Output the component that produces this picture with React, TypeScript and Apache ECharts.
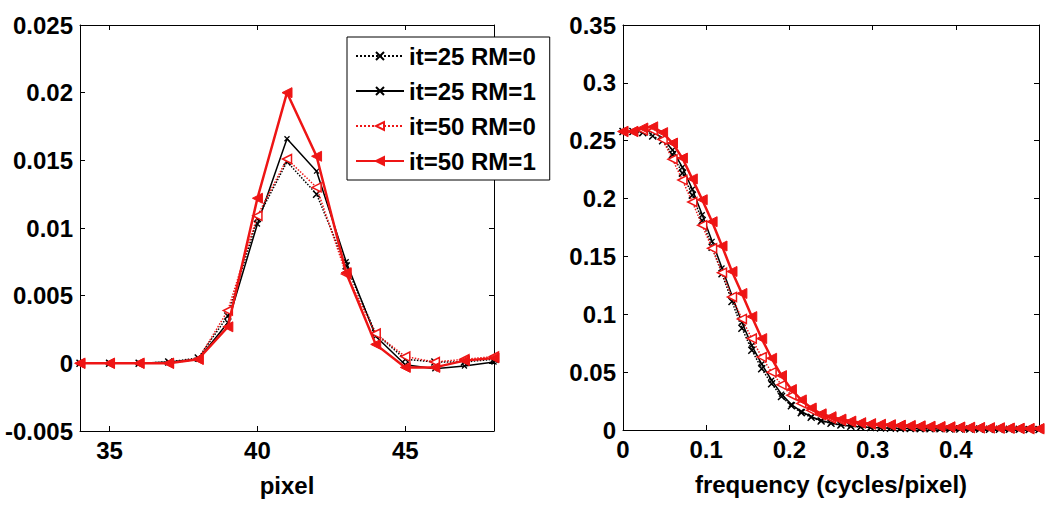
import React, { useEffect, useRef } from "react";
import * as echarts from "echarts";

// ---------- data ----------
const seriesNames = ["it=25 RM=0", "it=25 RM=1", "it=50 RM=0", "it=50 RM=1"];

// left panel: profile vs pixel
const pixel = [34, 35, 36, 37, 38, 39, 40, 41, 42, 43, 44, 45, 46, 47, 48];
const lsfIt25Rm0 = [0, 0, 0, 0.0001, 0.0004, 0.0035, 0.0107, 0.0149, 0.0125, 0.0072, 0.0022, 0.0003, 0.0001, 0.0001, 0.0003];
const lsfIt25Rm1 = [0, 0, 0, 0.0001, 0.0003, 0.003, 0.0103, 0.0166, 0.0142, 0.0075, 0.002, -0.0001, -0.0004, -0.0002, 0.0001];
const lsfIt50Rm0 = [0, 0, 0, 0.0, 0.0003, 0.0039, 0.0109, 0.0151, 0.013, 0.0066, 0.0022, 0.0005, 0.0001, 0.0003, 0.0005];
const lsfIt50Rm1 = [0, 0, 0, 0.0, 0.0003, 0.0027, 0.0122, 0.02, 0.0153, 0.0067, 0.0014, -0.0003, -0.0003, 0.0002, 0.0004];

// right panel: MTF vs frequency
const frequency = [
  0, 0.0119, 0.0238, 0.0357, 0.0476, 0.0595, 0.0714, 0.0833, 0.0952, 0.1071,
  0.119, 0.131, 0.1429, 0.1548, 0.1667, 0.1786, 0.1905, 0.2024, 0.2143, 0.2262,
  0.2381, 0.25, 0.2619, 0.2738, 0.2857, 0.2976, 0.3095, 0.3214, 0.3333, 0.3452,
  0.3571, 0.369, 0.381, 0.3929, 0.4048, 0.4167, 0.4286, 0.4405, 0.4524, 0.4643,
  0.4762, 0.4881, 0.5,
];
const mtfIt25Rm0 = [
  0.258, 0.258, 0.257, 0.254, 0.25, 0.238, 0.222, 0.203, 0.181, 0.158,
  0.135, 0.111, 0.088, 0.069, 0.053, 0.04, 0.029, 0.021, 0.015, 0.011,
  0.0078, 0.0058, 0.0043, 0.0033, 0.0026, 0.0021, 0.0018, 0.0016, 0.0014, 0.0013,
  0.0012, 0.0011, 0.001, 0.0009, 0.0009, 0.0008, 0.0008, 0.0007, 0.0007, 0.0006,
  0.0006, 0.0005, 0.0005,
];
const mtfIt25Rm1 = [
  0.258, 0.258, 0.259, 0.258, 0.252, 0.242, 0.227, 0.208, 0.186, 0.163,
  0.14, 0.116, 0.093, 0.073, 0.057, 0.043, 0.031, 0.022, 0.016, 0.0115,
  0.0082, 0.006, 0.0044, 0.0034, 0.0027, 0.0022, 0.0019, 0.0016, 0.0014, 0.0012,
  0.0011, 0.001, 0.0009, 0.0008, 0.0008, 0.0007, 0.0007, 0.0006, 0.0006, 0.0005,
  0.0005, 0.0004, 0.0004,
];
const mtfIt50Rm0 = [
  0.258, 0.258, 0.259, 0.259, 0.251, 0.234, 0.216, 0.197, 0.177, 0.157,
  0.136, 0.115, 0.096, 0.079, 0.063, 0.05, 0.039, 0.03, 0.023, 0.017,
  0.013, 0.01, 0.0082, 0.0068, 0.0058, 0.005, 0.0044, 0.004, 0.0036, 0.0033,
  0.003, 0.0027, 0.0025, 0.0023, 0.0021, 0.0019, 0.0018, 0.0016, 0.0015, 0.0014,
  0.0012, 0.0011, 0.001,
];
const mtfIt50Rm1 = [
  0.258, 0.258, 0.261, 0.262, 0.257, 0.248, 0.235, 0.217, 0.199, 0.18,
  0.159, 0.137, 0.118, 0.098, 0.079, 0.062, 0.047, 0.035, 0.026, 0.019,
  0.014, 0.0115, 0.0094, 0.0077, 0.0063, 0.0055, 0.005, 0.0046, 0.0042, 0.0039,
  0.0036, 0.0033, 0.003, 0.0028, 0.0026, 0.0024, 0.0022, 0.002, 0.0019, 0.0017,
  0.0015, 0.0013, 0.0012,
];

const pixelTicks = [35, 40, 45];
const freqTicks = [0, 0.1, 0.2, 0.3, 0.4];

// ---------- styles ----------
const RED = "#ee1515";
const FONT = "'Liberation Sans', Arial, Helvetica, sans-serif";
const TXT = { fontFamily: FONT, fontWeight: "bold" as const, fontSize: 24, color: "#000" };
const X_SYM = "path://M0,0L10,10M10,0L0,10";
const TRI_SYM = "path://M10,0L10,10L0,5Z";

const fmt = (v: number) => String(parseFloat(v.toFixed(4)));

const styles = [
  { line: { color: "#000", width: 1.5, type: "dotted" }, symbol: X_SYM, size: 7, item: { color: "#000", borderColor: "#000", borderWidth: 1.5 } },
  { line: { color: "#000", width: 1.5, type: "solid" }, symbol: X_SYM, size: 5, item: { color: "#000", borderColor: "#000", borderWidth: 1.3 } },
  { line: { color: RED, width: 1.5, type: "dotted" }, symbol: TRI_SYM, size: 9, item: { color: "#fff", borderColor: RED, borderWidth: 1.5 } },
  { line: { color: RED, width: 2.5, type: "solid" }, symbol: TRI_SYM, size: 10, item: { color: RED, borderColor: RED, borderWidth: 1 } },
];

function mkSeries(idx: number, xs: number[], ys: number[], axis: number) {
  const s = styles[idx];
  return {
    type: "line",
    name: seriesNames[idx],
    xAxisIndex: axis,
    yAxisIndex: axis,
    data: xs.map((x, i) => [x, ys[i]]),
    symbol: s.symbol,
    symbolSize: s.size,
    showSymbol: true,
    lineStyle: s.line,
    itemStyle: s.item,
    z: 2 + idx,
  };
}

function boxAxes(gridIndex: number, min: number, max: number, custom: number[] | null, interval: number | null, kind: "x" | "y", name?: string) {
  const common: any = {
    type: "value",
    gridIndex,
    min,
    max,
    splitLine: { show: false },
    axisLine: { show: true, onZero: false, lineStyle: { color: "#000", width: 1 } },
  };
  if (interval !== null) common.interval = interval;
  const tickBase: any = { show: true, inside: true, length: 5, lineStyle: { color: "#000", width: 1 } };
  if (custom) tickBase.customValues = custom;
  const main: any = {
    ...common,
    position: kind === "x" ? "bottom" : "left",
    axisTick: tickBase,
    axisLabel: {
      ...TXT,
      margin: 7,
      formatter: (v: number) => fmt(v),
      ...(custom ? { customValues: custom } : {}),
    },
  };
  if (name) {
    main.name = name;
    main.nameLocation = "middle";
    main.nameGap = 42;
    main.nameTextStyle = { ...TXT };
  }
  const other: any = {
    ...common,
    position: kind === "x" ? "top" : "right",
    axisTick: tickBase,
    axisLabel: { show: false, ...(custom ? { customValues: custom } : {}) },
  };
  return [main, other];
}

export default function App() {
  const ref = useRef<HTMLDivElement>(null);
  useEffect(() => {
    if (!ref.current) return;
    const chart = echarts.init(ref.current, null, { renderer: "svg" });
    const [lx, lxTop] = boxAxes(0, 34, 48, pixelTicks, null, "x", "pixel");
    const [ly, lyRight] = boxAxes(0, -0.005, 0.025, null, 0.005, "y");
    const [rx, rxTop] = boxAxes(1, 0, 0.5, freqTicks, null, "x", "frequency (cycles/pixel)");
    const [ry, ryRight] = boxAxes(1, 0, 0.35, null, 0.05, "y");
    chart.setOption({
      animation: false,
      backgroundColor: "#fff",
      grid: [
        { left: 80, right: 556, top: 25, bottom: 76 },
        { left: 623, right: 11, top: 25, bottom: 77 },
      ],
      xAxis: [lx, rx, lxTop, rxTop],
      yAxis: [ly, ry, lyRight, ryRight],
      legend: {
        data: seriesNames,
        orient: "vertical",
        left: 347,
        top: 37,
        itemWidth: 48,
        itemHeight: 10,
        itemGap: 11,
        padding: [7, 14, 7, 8],
        backgroundColor: "#fff",
        borderColor: "#000",
        borderWidth: 1,
        textStyle: { ...TXT, padding: [0, 0, 0, 0] },
        z: 10,
      },
      series: [
        mkSeries(0, pixel, lsfIt25Rm0, 0),
        mkSeries(1, pixel, lsfIt25Rm1, 0),
        mkSeries(2, pixel, lsfIt50Rm0, 0),
        mkSeries(3, pixel, lsfIt50Rm1, 0),
        mkSeries(0, frequency, mtfIt25Rm0, 1),
        mkSeries(1, frequency, mtfIt25Rm1, 1),
        mkSeries(2, frequency, mtfIt50Rm0, 1),
        mkSeries(3, frequency, mtfIt50Rm1, 1),
      ],
    });
    return () => chart.dispose();
  }, []);
  return <div ref={ref} style={{ position: "absolute", left: 0, top: 0, width: 1050, height: 507 }} />;
}
